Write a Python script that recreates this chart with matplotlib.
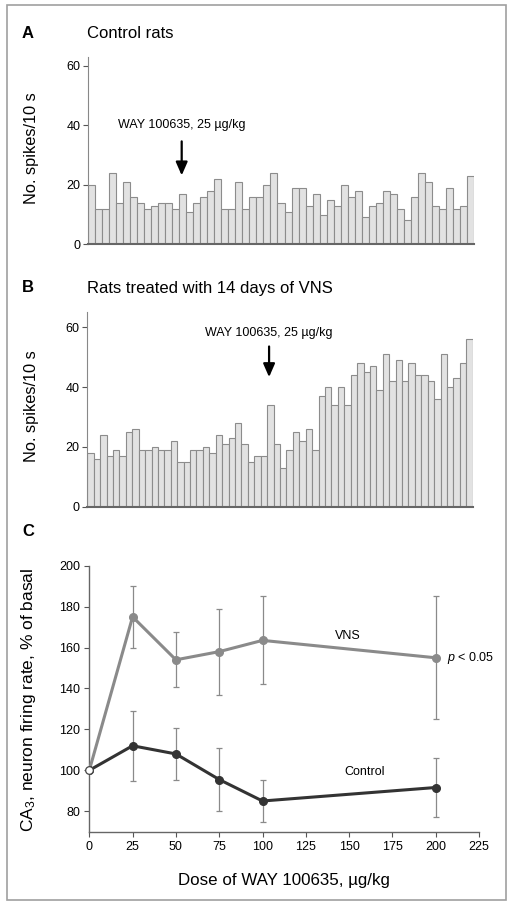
import numpy as np
import matplotlib
matplotlib.use("Agg")
import matplotlib.pyplot as plt
from matplotlib.patches import Rectangle

plt.rcParams['font.family'] = ['Liberation Sans', 'DejaVu Sans']
plt.rcParams['mathtext.fontset'] = 'custom'
plt.rcParams['mathtext.rm'] = 'Liberation Sans'
plt.rcParams['mathtext.it'] = 'Liberation Sans:italic'

# Panel A: control rats, spikes per 10 s bin
control_bins = [20, 12, 12, 24, 14, 21, 16, 14, 12, 13, 14, 14, 12, 17, 11,
                14, 16, 18, 22, 12, 12, 21, 12, 16, 16, 20, 24, 14, 11, 19,
                19, 13, 17, 10, 15, 13, 20, 16, 18, 9, 13, 14, 18, 17, 12,
                8, 16, 24, 21, 13, 12, 19, 12, 13, 23]

# Panel B: rats treated with 14 days of VNS
vns_bins = [18, 16, 24, 17, 19, 17, 25, 26, 19, 19, 20, 19, 19, 22, 15,
            15, 19, 19, 20, 18, 24, 21, 23, 28, 21, 15, 17, 17, 34, 21,
            13, 19, 25, 22, 26, 19, 37, 40, 34, 40, 34, 44, 48, 45, 47,
            39, 51, 42, 49, 42, 48, 44, 44, 42, 36, 51, 40, 43, 48, 56]

# Panel C: dose response
doses = [0, 25, 50, 75, 100, 200]
vns_rate = [100, 175, 154, 158, 163.5, 155]
vns_err = [0, 15, 13.5, 21, 21.5, 30]
ctrl_rate = [100, 112, 108, 95.5, 85, 91.6]
ctrl_err = [0, 17, 12.7, 15.3, 10.5, 14.6]

W, H = 514, 907
fig = plt.figure(figsize=(W / 100, H / 100), dpi=100)


def fx(px):
    return px / W


def fy(py):
    return 1 - py / H


bar_face = '#e2e2e2'
bar_edge = '#8c8c8c'
spine_col = '#666666'


def bar_panel(rect, values, ytop, arrow_x, arrow_tip, arrow_top, text_y):
    ax = fig.add_axes(rect)
    x = np.arange(len(values))
    ax.bar(x, values, width=1.0, align='edge', color=bar_face,
           edgecolor=bar_edge, linewidth=0.8)
    ax.set_xlim(0, len(values))
    ax.set_ylim(0, ytop)
    ax.set_yticks([0, 20, 40, 60])
    ax.set_xticks([])
    for s in ['top', 'right']:
        ax.spines[s].set_visible(False)
    ax.spines['left'].set_color('#888888')
    ax.spines['left'].set_linewidth(0.8)
    ax.spines['bottom'].set_color(spine_col)
    ax.spines['bottom'].set_linewidth(1.5)
    ax.tick_params(axis='y', direction='out', length=3.5, width=0.8,
                   color='#555555', labelsize=9, pad=2)
    ax.annotate('', xy=(arrow_x, arrow_tip), xytext=(arrow_x, arrow_top),
                arrowprops=dict(arrowstyle='-|>,head_width=0.35,head_length=0.8',
                                color='black', lw=1.6))
    ax.text(arrow_x, text_y, u'WAY 100635, 25 \u00b5g/kg', ha='center',
            va='center', fontsize=9)
    return ax


axA = bar_panel([fx(88), fy(244.3), fx(386), (244.3 - 56.7) / H],
                control_bins, 63, 13.35, 22.2, 35.5, 40.0)
axB = bar_panel([fx(87.3), fy(506.7), fx(385.4), (506.7 - 311.7) / H],
                vns_bins, 65.2, 28.3, 42.4, 54.5, 58.0)

# Panel C
axC = fig.add_axes([fx(89.3), fy(831.7), fx(389.7), 266 / H])
vns_col = '#8a8a8a'
ctrl_col = '#333333'
err_col = '#8a8a8a'
axC.errorbar(doses[1:], vns_rate[1:], yerr=vns_err[1:], fmt='none',
             ecolor=err_col, elinewidth=0.9, capsize=2.5, capthick=0.9)
axC.errorbar(doses[1:], ctrl_rate[1:], yerr=ctrl_err[1:], fmt='none',
             ecolor=err_col, elinewidth=0.9, capsize=2.5, capthick=0.9)
axC.plot(doses, vns_rate, '-o', color=vns_col, lw=2.2, ms=5.5, zorder=3)
axC.plot(doses, ctrl_rate, '-o', color=ctrl_col, lw=2.2, ms=5.5, zorder=3)
axC.plot([doses[0]], [vns_rate[0]], 'o', mfc='white', mec='#444444',
         mew=0.9, ms=5.5, zorder=4, clip_on=False)
axC.set_xlim(0, 225)
axC.set_ylim(70, 200)
axC.set_xticks(np.arange(0, 226, 25))
axC.set_yticks([80, 100, 120, 140, 160, 180, 200])
for s in ['top', 'right']:
    axC.spines[s].set_visible(False)
for s in ['left', 'bottom']:
    axC.spines[s].set_color(spine_col)
    axC.spines[s].set_linewidth(1.0)
axC.tick_params(direction='out', length=3.5, width=0.8, color='#555555',
                labelsize=9, pad=3)
axC.text(149, 165.7, 'VNS', ha='center', va='center', fontsize=9)
axC.text(159, 99, 'Control', ha='center', va='center', fontsize=9)
axC.text(206.5, 155, r'$p$ < 0.05', ha='left', va='center', fontsize=9,
         clip_on=False)

# Axis titles placed in figure pixels
fig.text(fx(31.5), fy(148.5), 'No. spikes/10 s', rotation=90, ha='center',
         va='center', fontsize=11.8)
fig.text(fx(31.5), fy(406), 'No. spikes/10 s', rotation=90, ha='center',
         va='center', fontsize=11.8)
fig.text(fx(29), fy(700), r'CA$_3$, neuron firing rate, % of basal',
         rotation=90, ha='center', va='center', fontsize=12.5)
fig.text(fx(284), fy(881), u'Dose of WAY 100635, \u00b5g/kg', ha='center',
         va='center', fontsize=12.2)

# Panel letters and titles
fig.text(fx(22), fy(33), 'A', fontsize=12, fontweight='bold', va='center')
fig.text(fx(86.7), fy(33), 'Control rats', fontsize=12, va='center')
fig.text(fx(22), fy(288), 'B', fontsize=12, fontweight='bold', va='center')
fig.text(fx(86.7), fy(288), 'Rats treated with 14 days of VNS', fontsize=12,
         va='center')
fig.text(fx(22), fy(532), 'C', fontsize=12, fontweight='bold', va='center')

# Outer frame
fig.patches.append(Rectangle((fx(6.7), fy(900)), fx(506 - 6.7), (900 - 5) / H,
                             transform=fig.transFigure, fill=False,
                             edgecolor='#a0a0a0', linewidth=1.2))

fig.savefig('out.png', dpi=100)
